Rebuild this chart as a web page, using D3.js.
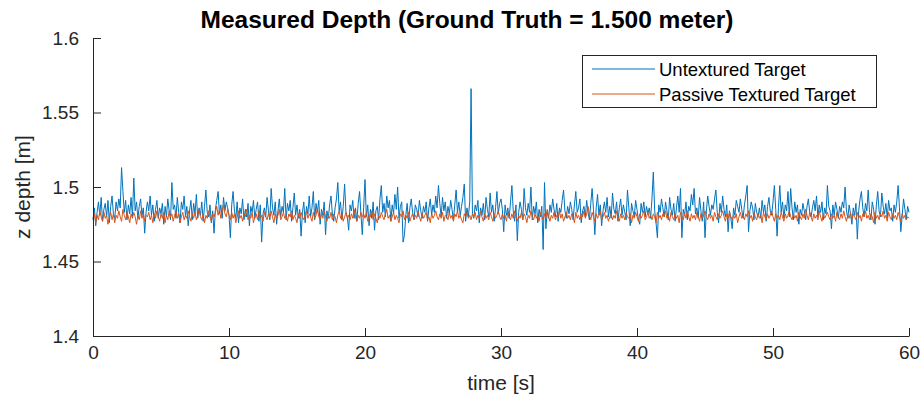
<!DOCTYPE html>
<html>
<head>
<meta charset="utf-8">
<script src="https://cdn.jsdelivr.net/npm/d3@7"></script>
<style>
  body { margin: 0; background: #fff; }
  svg { display: block; font-family: "Liberation Sans", Arial, sans-serif; }
</style>
</head>
<body>
<div id="chart"></div>
<script>
// sample spacing in seconds
const sampleStep = 0.1;

// measured depth in millimetres, untextured target
const untexturedMM = [
  1478,1486,1474,1483,1490,1481,1493,1477,1485,1489,
  1480,1491,1476,1487,1494,1482,1479,1490,1484,1492,
  1486,1513,1497,1483,1491,1478,1488,1482,1493,1480,
  1506,1484,1490,1479,1487,1492,1481,1486,1469,1483,
  1490,1484,1494,1481,1488,1477,1485,1491,1479,1486,
  1482,1489,1475,1487,1480,1492,1484,1478,1503,1485,
  1488,1479,1493,1483,1476,1490,1485,1494,1480,1487,
  1474,1484,1491,1478,1489,1482,1495,1479,1486,1481,
  1490,1477,1487,1498,1483,1480,1488,1476,1484,1469,
  1485,1491,1497,1482,1488,1479,1493,1484,1490,1486,
  1481,1466,1488,1497,1484,1479,1490,1476,1486,1482,
  1492,1478,1485,1480,1489,1474,1487,1483,1491,1479,
  1485,1490,1477,1488,1463,1482,1486,1480,1493,1484,
  1478,1499,1486,1481,1490,1475,1484,1492,1480,1487,
  1483,1499,1478,1489,1484,1491,1477,1486,1496,1481,
  1488,1479,1485,1467,1483,1490,1476,1487,1482,1494,
  1480,1486,1497,1478,1489,1483,1491,1475,1485,1481,
  1490,1468,1484,1479,1488,1494,1482,1477,1486,1492,
  1503,1484,1490,1478,1487,1502,1483,1480,1471,1488,
  1484,1491,1479,1486,1477,1489,1497,1482,1468,1486,
  1505,1480,1488,1474,1485,1479,1490,1471,1484,1487,
  1478,1492,1501,1483,1489,1480,1494,1486,1491,1477,
  1488,1482,1495,1485,1500,1479,1487,1490,1463,1468,
  1481,1489,1476,1486,1492,1483,1478,1488,1485,1480,
  1491,1484,1479,1487,1483,1490,1477,1486,1492,1481,
  1488,1483,1494,1486,1501,1489,1480,1493,1484,1490,
  1479,1487,1482,1491,1485,1478,1488,1498,1483,1490,
  1481,1487,1493,1502,1477,1486,1480,1490,1566,1482,
  1479,1488,1484,1491,1476,1486,1481,1489,1478,1493,
  1485,1480,1496,1483,1488,1477,1486,1497,1482,1489,
  1492,1485,1470,1488,1481,1486,1479,1490,1501,1484,
  1477,1488,1464,1483,1490,1485,1478,1499,1486,1481,
  1489,1483,1500,1478,1487,1482,1490,1476,1485,1480,
  1487,1458,1503,1472,1484,1479,1488,1483,1492,1485,
  1480,1489,1477,1486,1483,1491,1498,1484,1479,1487,
  1482,1490,1485,1478,1488,1497,1483,1486,1492,1476,
  1484,1487,1480,1491,1483,1478,1489,1499,1485,1468,
  1486,1495,1481,1488,1474,1484,1490,1483,1493,1480,
  1487,1479,1496,1485,1482,1490,1477,1486,1492,1481,
  1488,1483,1478,1498,1486,1474,1489,1484,1480,1491,
  1485,1478,1475,1489,1483,1490,1480,1487,1482,1486,
  1479,1492,1510,1484,1476,1466,1488,1483,1492,1486,
  1480,1490,1484,1478,1493,1485,1481,1489,1477,1486,
  1494,1483,1499,1466,1485,1481,1490,1478,1487,1484,
  1495,1488,1499,1482,1486,1479,1493,1484,1477,1490,
  1466,1484,1494,1487,1481,1488,1485,1492,1498,1483,
  1476,1489,1483,1494,1485,1480,1488,1470,1484,1479,
  1472,1486,1481,1491,1487,1483,1492,1485,1479,1488,
  1494,1501,1470,1484,1490,1486,1478,1489,1483,1480,
  1486,1479,1491,1483,1488,1477,1487,1493,1484,1481,
  1490,1501,1485,1467,1486,1501,1483,1490,1479,1488,
  1484,1497,1480,1499,1486,1478,1490,1483,1488,1475,
  1485,1481,1489,1484,1478,1487,1492,1483,1480,1486,
  1491,1484,1494,1480,1488,1483,1490,1478,1486,1482,
  1501,1487,1484,1472,1488,1481,1490,1485,1479,1487,
  1483,1490,1486,1500,1484,1479,1488,1482,1475,1486,
  1481,1489,1465,1484,1492,1497,1486,1480,1489,1484,
  1498,1483,1478,1490,1485,1475,1488,1497,1484,1480,
  1496,1487,1482,1489,1479,1491,1484,1486,1477,1488,
  1483,1490,1501,1486,1470,1481,1492,1485,1478,1487,
  1483
];

// measured depth in millimetres, passive textured target
const texturedMM = [
  1479,1482,1476,1481,1478,1484,1480,1477,1483,1479,
  1481,1475,1480,1483,1478,1482,1476,1481,1479,1484,
  1480,1477,1485,1481,1478,1483,1480,1476,1482,1479,
  1483,1480,1475,1481,1478,1484,1479,1482,1477,1481,
  1480,1483,1478,1481,1476,1482,1479,1484,1480,1477,
  1482,1479,1483,1476,1481,1478,1484,1480,1482,1477,
  1481,1484,1479,1482,1476,1480,1483,1478,1481,1479,
  1484,1480,1477,1482,1479,1483,1478,1481,1485,1480,
  1478,1482,1476,1481,1479,1484,1480,1477,1482,1480,
  1483,1487,1481,1485,1479,1484,1488,1482,1480,1485,
  1481,1478,1483,1479,1482,1476,1480,1484,1479,1481,
  1477,1482,1480,1485,1478,1481,1479,1483,1476,1480,
  1482,1478,1484,1479,1481,1477,1483,1480,1478,1482,
  1479,1484,1480,1476,1482,1479,1481,1485,1478,1480,
  1483,1479,1481,1477,1482,1480,1484,1478,1481,1479,
  1476,1482,1479,1483,1480,1478,1481,1484,1479,1482,
  1480,1477,1483,1479,1481,1486,1480,1478,1482,1479,
  1484,1480,1477,1481,1479,1483,1478,1482,1480,1476,
  1481,1484,1479,1482,1477,1480,1483,1479,1481,1478,
  1482,1479,1485,1480,1477,1481,1479,1483,1480,1482,
  1479,1483,1477,1481,1480,1484,1478,1482,1479,1476,
  1481,1479,1483,1480,1478,1482,1485,1479,1481,1477,
  1480,1483,1478,1481,1479,1476,1482,1480,1484,1478,
  1481,1479,1483,1477,1480,1482,1478,1481,1479,1484,
  1480,1477,1482,1479,1481,1483,1478,1480,1476,1482,
  1479,1481,1484,1480,1478,1482,1479,1483,1477,1481,
  1480,1478,1483,1479,1481,1477,1482,1480,1484,1479,
  1481,1478,1476,1482,1480,1483,1479,1481,1478,1482,
  1480,1483,1478,1481,1479,1484,1480,1477,1482,1479,
  1481,1478,1483,1480,1477,1482,1479,1481,1484,1480,
  1478,1482,1479,1481,1477,1483,1480,1478,1482,1479,
  1484,1480,1477,1481,1479,1483,1478,1482,1480,1476,
  1481,1479,1484,1480,1478,1482,1479,1481,1477,1483,
  1480,1478,1482,1479,1485,1480,1477,1481,1479,1483,
  1478,1481,1480,1484,1479,1482,1477,1480,1483,1479,
  1481,1478,1482,1480,1476,1483,1479,1481,1478,1482,
  1480,1484,1479,1482,1487,1481,1478,1483,1480,1477,
  1482,1479,1481,1484,1478,1480,1483,1479,1481,1477,
  1480,1482,1478,1481,1479,1484,1480,1477,1482,1479,
  1481,1478,1483,1480,1479,1482,1476,1481,1479,1483,
  1480,1477,1482,1479,1481,1484,1478,1480,1483,1479,
  1481,1478,1482,1480,1476,1483,1479,1481,1478,1482,
  1480,1484,1479,1481,1477,1483,1480,1478,1482,1479,
  1481,1476,1483,1480,1478,1482,1479,1484,1480,1477,
  1482,1479,1481,1478,1483,1480,1477,1482,1479,1481,
  1484,1480,1478,1482,1479,1481,1477,1483,1480,1478,
  1482,1479,1481,1484,1480,1477,1482,1479,1483,1480,
  1478,1481,1479,1482,1476,1480,1483,1479,1481,1478,
  1482,1480,1484,1479,1481,1477,1483,1480,1478,1482,
  1479,1481,1476,1483,1480,1478,1482,1479,1481,1484,
  1480,1477,1482,1479,1481,1478,1483,1480,1477,1482,
  1479,1481,1484,1480,1478,1482,1479,1481,1477,1483,
  1480,1478,1482,1479,1485,1481,1478,1483,1480,1477,
  1482,1479,1481,1478,1484,1480,1477,1482,1479,1481,
  1483,1480,1478,1482,1479,1481,1477,1483,1480,1478,
  1482,1479,1484,1480,1477,1481,1479,1483,1478,1482,
  1480,1478,1483,1479,1481,1477,1482,1480,1484,1479,
  1481,1478,1482,1480,1476,1483,1479,1481,1478,1482,
  1480,1484,1479,1481,1477,1483,1480,1478,1482,1479,
  1481,1478,1483,1480,1477,1482,1479,1481,1478,1480,
  1479
];

const seriesNames = ["Untextured Target", "Passive Textured Target"];
const seriesColors = ["#0072BD", "#D95319"];
const xTicks = [0, 10, 20, 30, 40, 50, 60];
const yTicks = [1.4, 1.45, 1.5, 1.55, 1.6];

const width = 921, height = 398;
const margin = { top: 38, right: 12, bottom: 62, left: 93 };

const svg = d3.select("#chart").append("svg")
    .attr("width", width)
    .attr("height", height);

const x = d3.scaleLinear().domain([0, 60]).range([margin.left, width - margin.right]);
const y = d3.scaleLinear().domain([1.4, 1.6]).range([height - margin.bottom, margin.top]);

const toPoints = arr => arr.map((v, i) => [i * sampleStep, v / 1000]);

const line = d3.line()
    .x(d => x(d[0]))
    .y(d => y(d[1]));

// data lines
[untexturedMM, texturedMM].forEach((arr, i) => {
    svg.append("path")
        .datum(toPoints(arr))
        .attr("fill", "none")
        .attr("stroke", seriesColors[i])
        .attr("stroke-width", 1)
        .attr("stroke-linejoin", "round")
        .attr("d", line);
});

const axisColor = "#262626";

// x axis, ticks pointing inward
const xAxis = svg.append("g")
    .attr("transform", `translate(0,${height - margin.bottom})`)
    .call(d3.axisBottom(x).tickValues(xTicks).tickSizeInner(-8).tickSizeOuter(0));

// y axis
const yAxis = svg.append("g")
    .attr("transform", `translate(${margin.left},0)`)
    .call(d3.axisLeft(y).tickValues(yTicks).tickSizeInner(-8).tickSizeOuter(0)
        .tickFormat(d3.format("")));

[xAxis, yAxis].forEach(g => {
    g.select(".domain").attr("stroke", axisColor);
    g.selectAll(".tick line").attr("stroke", axisColor);
    g.selectAll(".tick text")
        .attr("fill", axisColor)
        .style("font-size", "19px")
        .style("font-family", "'Liberation Sans', Arial, sans-serif");
});
xAxis.selectAll(".tick text").attr("y", 9).attr("dy", "0.75em");
yAxis.selectAll(".tick text").attr("x", -14);

// title
svg.append("text")
    .attr("x", 467)
    .attr("y", 28)
    .attr("text-anchor", "middle")
    .style("font-size", "24.5px")
    .style("font-weight", "bold")
    .attr("fill", "#000")
    .text("Measured Depth (Ground Truth = 1.500 meter)");

// axis labels
svg.append("text")
    .attr("x", (margin.left + width - margin.right) / 2)
    .attr("y", 390)
    .attr("text-anchor", "middle")
    .style("font-size", "21px")
    .attr("fill", axisColor)
    .text("time [s]");

svg.append("text")
    .attr("transform", `translate(30,${(margin.top + height - margin.bottom) / 2}) rotate(-90)`)
    .attr("text-anchor", "middle")
    .style("font-size", "21px")
    .attr("fill", axisColor)
    .text("z depth [m]");

// legend
const legend = svg.append("g");
legend.append("rect")
    .attr("x", 582.5).attr("y", 55.5)
    .attr("width", 294).attr("height", 52)
    .attr("fill", "#fff")
    .attr("stroke", axisColor)
    .attr("stroke-width", 1);

seriesNames.forEach((name, i) => {
    const ly = 69 + i * 25;
    legend.append("line")
        .attr("x1", 592).attr("x2", 655)
        .attr("y1", ly).attr("y2", ly)
        .attr("stroke", seriesColors[i])
        .attr("stroke-width", 1);
    legend.append("text")
        .attr("x", 659)
        .attr("y", ly + 6.5)
        .style("font-size", "18.5px")
        .attr("fill", "#000")
        .text(name);
});
</script>
</body>
</html>
